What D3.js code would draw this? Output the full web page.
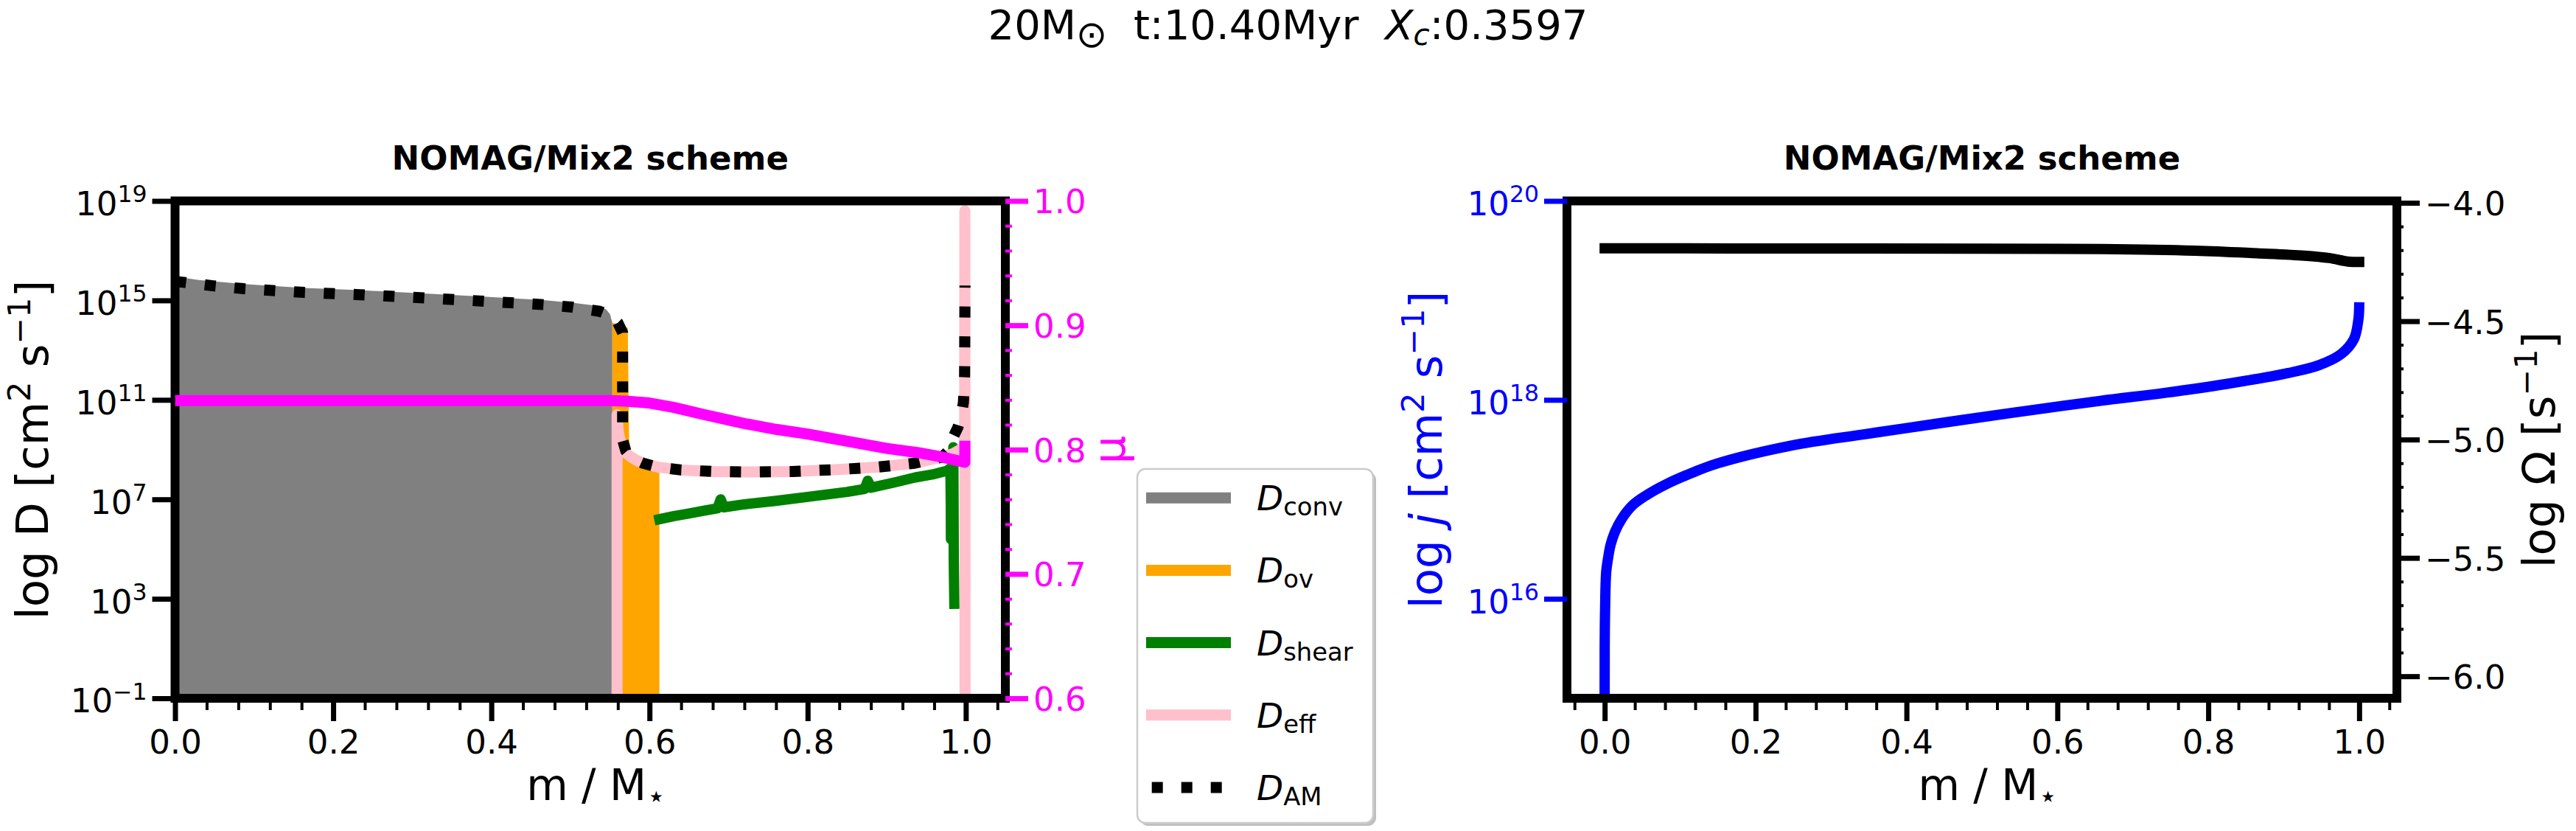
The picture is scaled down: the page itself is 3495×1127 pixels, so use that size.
<!DOCTYPE html>
<html>
<head>
<meta charset="utf-8">
<script src="https://cdn.jsdelivr.net/npm/d3@7"></script>
<style>
  body { margin: 0; background: #fff; }
  svg text { font-family: "DejaVu Sans", sans-serif; white-space: pre; }
</style>
</head>
<body>
<div id="chart"></div>
<script>
// ---------- DATA ----------------------------------
// left panel: diffusion coefficients, log10 D vs m/M*
var massConv = [0, 0.013, 0.03, 0.087, 0.163, 0.234, 0.315, 0.39, 0.466, 0.502, 0.53, 0.545, 0.55, 0.553]
var logDconv = [15.92, 15.9, 15.82, 15.66, 15.5, 15.41, 15.28, 15.15, 15.01, 14.91, 14.8, 14.64, 14.45, 14.1]

var massOv = [0.553, 0.5725, 0.5745, 0.58, 0.59, 0.6125]
var logDov = [14.1, 13.9, 8.6, 8.45, 8.3, 8.15]

var massShear = [0.6125, 0.63, 0.65, 0.67, 0.686, 0.69, 0.694, 0.72, 0.758, 0.8, 0.85, 0.872, 0.876, 0.88, 0.91, 0.936, 0.958, 0.976, 0.9805, 0.981, 0.9812, 0.9838, 0.9842, 0.9848, 0.9855]
var logDshear = [6.2, 6.32, 6.43, 6.55, 6.64, 7.0, 6.68, 6.8, 6.93, 7.1, 7.3, 7.42, 7.75, 7.47, 7.68, 7.88, 8.0, 8.15, 8.25, 6.8, 5.4, 5.35, 9.1, 4.45, 2.8]

var massEff = [0.559, 0.559, 0.5605, 0.564, 0.569, 0.576, 0.583, 0.592, 0.61, 0.64, 0.68, 0.72, 0.78, 0.84, 0.89, 0.935, 0.97, 0.985, 0.993, 0.9985, 0.9988, 0.9991]
var logDeff = [-4, 10.4, 9.7, 9.2, 8.9, 8.72, 8.58, 8.45, 8.3, 8.18, 8.12, 8.1, 8.12, 8.2, 8.3, 8.45, 8.7, 8.85, 9.0, 9.1, 18.6, -4]

var massAM = [0, 0.013, 0.05, 0.087, 0.163, 0.234, 0.315, 0.39, 0.466, 0.502, 0.537, 0.55, 0.56, 0.566, 0.566, 0.57, 0.576, 0.583, 0.592, 0.61, 0.64, 0.68, 0.72, 0.78, 0.84, 0.89, 0.935, 0.97, 0.98, 0.984, 0.99, 0.994, 0.997, 0.9985, 0.999]
var logDam = [15.76, 15.72, 15.58, 15.47, 15.32, 15.23, 15.1, 14.97, 14.83, 14.73, 14.56, 14.4, 14.1, 13.7, 9.4, 8.95, 8.72, 8.58, 8.45, 8.3, 8.18, 8.12, 8.1, 8.12, 8.2, 8.3, 8.45, 8.7, 9.0, 9.5, 9.9, 10.3, 10.9, 12, 15.6]

// mean molecular weight (twin axis)
var massMu = [0, 0.55, 0.57, 0.6, 0.63, 0.67, 0.72, 0.76, 0.8, 0.85, 0.9, 0.94, 0.97, 0.9988, 0.9988]
var muVals = [0.8395, 0.8395, 0.839, 0.8375, 0.834, 0.828, 0.821, 0.8163, 0.8125, 0.8068, 0.801, 0.7975, 0.794, 0.7898, 0.8027]

// right panel: specific angular momentum and angular velocity
var massJ = [0, 0, 0.0005, 0.002, 0.0045, 0.0077, 0.0134, 0.0223, 0.0369, 0.055, 0.081, 0.117, 0.149, 0.247, 0.345, 0.442, 0.54, 0.657, 0.742, 0.824, 0.906, 0.947, 0.976, 0.993, 0.999, 1.0]
var logJ = [14.0, 15.5, 15.88, 16.27, 16.41, 16.54, 16.67, 16.8, 16.94, 17.04, 17.15, 17.27, 17.36, 17.54, 17.655, 17.763, 17.87, 17.99, 18.07, 18.16, 18.27, 18.35, 18.46, 18.61, 18.81, 18.93]

var massOmega = [0, 0.3, 0.5, 0.66, 0.783, 0.865, 0.927, 0.96, 0.985, 1.0]
var logOmega = [-4.192, -4.193, -4.194, -4.195, -4.202, -4.213, -4.223, -4.233, -4.248, -4.25]

// ticks
var massTicks = [0, 0.2, 0.4, 0.6, 0.8, 1.0]
var logDTicks = [1e-1, 1e3, 1e7, 1e11, 1e15, 1e19]
var muTicks = [0.6, 0.7, 0.8, 0.9, 1.0]
var jTicks = [1e16, 1e18, 1e20]
var omegaTicks = [-6.0, -5.5, -5.0, -4.5, -4.0]

var legendKeys = ['conv', 'ov', 'shear', 'eff', 'AM']
var legendColors = ['#808080', '#ffa500', '#008000', '#ffc0cb', '#000000']


// ---------- PAGE FUNCTIONS -----------
var width = 3495, height = 1127;
var L = {x0: 237.5, x1: 1364, y0: 272.5, y1: 947}
var R = {x0: 2126, x1: 3252, y0: 272.5, y1: 947}

var svg = d3.select('#chart').append('svg')
    .attr('width', width)
    .attr('height', height);

svg.append('rect').attr('width', width).attr('height', height).attr('fill', 'white');

var xL = d3.scaleLinear().domain([0, 1.05]).range([L.x0, L.x1]);
var yL = d3.scaleLog().domain([1e-1, 1e19]).range([L.y1, L.y0]);
var muY = d3.scaleLinear().domain([0.6, 1.0]).range([L.y1, L.y0]);
var xR = d3.scaleLinear().domain([-0.05, 1.05]).range([R.x0, R.x1]);
var jY = d3.scaleLog().domain([1e15, 1e20]).range([R.y1, R.y0]);
var omY = d3.scaleLinear().domain([-6.093, -3.992]).range([R.y1, R.y0]);

var defs = svg.append('defs');
defs.append('clipPath').attr('id', 'clipL').append('rect')
    .attr('x', L.x0).attr('y', L.y0).attr('width', L.x1 - L.x0).attr('height', L.y1 - L.y0);
defs.append('clipPath').attr('id', 'clipR').append('rect')
    .attr('x', R.x0).attr('y', R.y0).attr('width', R.x1 - R.x0).attr('height', R.y1 - R.y0);

function pow10(v) { return Math.pow(10, v) }

// text with super/subscripts, parts = [[text, 'sup'|'sub'|null, italic, sizeFactor, shift]]
function richText(sel, parts, fs) {
    var prev = 0;
    parts.forEach(function(p) {
        var sh = 0, size = fs;
        if (p[1] == 'sup') { sh = -0.39 * fs; size = 0.7 * fs; }
        if (p[1] == 'sub') { sh = 0.15 * fs; size = 0.72 * fs; }
        if (p[3]) size = p[3] * fs;
        if (p[4] != null) sh = p[4] * fs;
        sel.append('tspan').text(p[0])
            .attr('dy', sh - prev)
            .style('font-size', size + 'px')
            .style('font-style', p[2] ? 'italic' : 'normal');
        prev = sh;
    });
}

function styleAxis(g, color, tw) {
    g.attr('font-size', 45).attr('font-family', 'DejaVu Sans');
    g.select('.domain').remove();
    g.selectAll('.tick line').attr('stroke', color).attr('stroke-width', tw);
    g.selectAll('.tick text').attr('fill', color);
}

function minorRange(a, b, step, major) {
    var out = [];
    for (var i = Math.round(a / step); i <= Math.round(b / step); i++) {
        if (i % major != 0) out.push(+(i * step).toFixed(4));
    }
    return out;
}

// ---------- LEFT PANEL -----------
var pL = svg.append('g').attr('clip-path', 'url(#clipL)');

pL.append('path')
    .datum(d3.zip(massConv, logDconv))
    .attr('d', d3.area().x(function(d){ return xL(d[0]) }).y0(L.y1 + 20).y1(function(d){ return yL(pow10(d[1])) }))
    .attr('fill', '#808080');

pL.append('path')
    .datum(d3.zip(massOv, logDov))
    .attr('d', d3.area().x(function(d){ return xL(d[0]) }).y0(L.y1 + 20).y1(function(d){ return yL(pow10(d[1])) }))
    .attr('fill', '#ffa500');

var lineL = d3.line().x(function(d){ return xL(d[0]) }).y(function(d){ return yL(pow10(d[1])) });

pL.append('path')
    .datum(d3.zip(massShear, logDshear))
    .attr('d', lineL)
    .attr('fill', 'none').attr('stroke', '#008000').attr('stroke-width', 14)
    .attr('stroke-linejoin', 'round').attr('stroke-linecap', 'square');

pL.append('path')
    .datum(d3.zip(massEff, logDeff))
    .attr('d', lineL)
    .attr('fill', 'none').attr('stroke', '#ffc0cb').attr('stroke-width', 15)
    .attr('stroke-linejoin', 'round').attr('stroke-linecap', 'square');

pL.append('path')
    .datum(d3.zip(massAM, logDam))
    .attr('d', lineL)
    .attr('fill', 'none').attr('stroke', 'black').attr('stroke-width', 15)
    .attr('stroke-dasharray', '15,25.5')
    .attr('stroke-linejoin', 'round').attr('stroke-linecap', 'butt');

svg.append('rect')
    .attr('x', L.x0).attr('y', L.y0).attr('width', L.x1 - L.x0).attr('height', L.y1 - L.y0)
    .attr('fill', 'none').attr('stroke', 'black').attr('stroke-width', 12);

svg.append('g').attr('clip-path', 'url(#clipL)')
  .append('path')
    .datum(d3.zip(massMu, muVals))
    .attr('d', d3.line().x(function(d){ return xL(d[0]) }).y(function(d){ return muY(d[1]) }))
    .attr('fill', 'none').attr('stroke', '#ff00ff').attr('stroke-width', 15)
    .attr('stroke-linejoin', 'round').attr('stroke-linecap', 'square');

// axes
var gxL = svg.append('g').attr('transform', 'translate(0,' + L.y1 + ')')
    .call(d3.axisBottom(xL).tickValues(massTicks).tickSize(31).tickFormat(d3.format('.1f')));
styleAxis(gxL, 'black', 7);
gxL.selectAll('.tick text').attr('y', 75).attr('dy', null);

var gxLm = svg.append('g').attr('transform', 'translate(0,' + L.y1 + ')')
    .call(d3.axisBottom(xL).tickValues(minorRange(0.04, 1.04, 0.04, 5)).tickSize(16).tickFormat(''));
styleAxis(gxLm, 'black', 4);

var gyL = svg.append('g').attr('transform', 'translate(' + L.x0 + ',0)')
    .call(d3.axisLeft(yL).tickValues(logDTicks).tickSize(31).tickPadding(7).tickFormat(function(){ return '10' }));
styleAxis(gyL, 'black', 7);
gyL.selectAll('.tick text').attr('dy', '0.42em').each(function(d) {
    d3.select(this).append('tspan').attr('dy', -17.7).style('font-size', '31.5px')
        .text(d3.format('d')(Math.round(Math.log10(d))));
});

var gmu = svg.append('g').attr('transform', 'translate(' + L.x1 + ',0)')
    .call(d3.axisRight(muY).tickValues(muTicks).tickSize(31).tickPadding(7).tickFormat(d3.format('.1f')));
styleAxis(gmu, '#ff00ff', 7);
gmu.selectAll('.tick text').attr('dy', '0.366em');

var gmum = svg.append('g').attr('transform', 'translate(' + L.x1 + ',0)')
    .call(d3.axisRight(muY).tickValues(minorRange(0.62, 0.98, 0.02, 5)).tickSize(9).tickFormat(''));
styleAxis(gmum, '#ff00ff', 4);

// ---------- RIGHT PANEL -----------
var pR = svg.append('g').attr('clip-path', 'url(#clipR)');

pR.append('path')
    .datum(d3.zip(massJ, logJ))
    .attr('d', d3.line().x(function(d){ return xR(d[0]) }).y(function(d){ return jY(pow10(d[1])) }).curve(d3.curveCatmullRom.alpha(0.5)))
    .attr('fill', 'none').attr('stroke', '#0000ff').attr('stroke-width', 14)
    .attr('stroke-linejoin', 'round').attr('stroke-linecap', 'square');

svg.append('rect')
    .attr('x', R.x0).attr('y', R.y0).attr('width', R.x1 - R.x0).attr('height', R.y1 - R.y0)
    .attr('fill', 'none').attr('stroke', 'black').attr('stroke-width', 12);

svg.append('g').attr('clip-path', 'url(#clipR)')
  .append('path')
    .datum(d3.zip(massOmega, logOmega))
    .attr('d', d3.line().x(function(d){ return xR(d[0]) }).y(function(d){ return omY(d[1]) }).curve(d3.curveCatmullRom.alpha(0.5)))
    .attr('fill', 'none').attr('stroke', 'black').attr('stroke-width', 14)
    .attr('stroke-linejoin', 'round').attr('stroke-linecap', 'square');

var gxR = svg.append('g').attr('transform', 'translate(0,' + R.y1 + ')')
    .call(d3.axisBottom(xR).tickValues(massTicks).tickSize(31).tickFormat(d3.format('.1f')));
styleAxis(gxR, 'black', 7);
gxR.selectAll('.tick text').attr('y', 75).attr('dy', null);

var gxRm = svg.append('g').attr('transform', 'translate(0,' + R.y1 + ')')
    .call(d3.axisBottom(xR).tickValues(minorRange(-0.04, 1.04, 0.04, 5)).tickSize(16).tickFormat(''));
styleAxis(gxRm, 'black', 4);

var gjy = svg.append('g').attr('transform', 'translate(' + R.x0 + ',0)')
    .call(d3.axisLeft(jY).tickValues(jTicks).tickSize(31).tickPadding(7).tickFormat(function(){ return '10' }));
styleAxis(gjy, '#0000ff', 7);
gjy.selectAll('.tick text').attr('dy', '0.42em').each(function(d) {
    d3.select(this).append('tspan').attr('dy', -17.7).style('font-size', '31.5px')
        .text(d3.format('d')(Math.round(Math.log10(d))));
});

var gom = svg.append('g').attr('transform', 'translate(' + R.x1 + ',0)')
    .call(d3.axisRight(omY).tickValues(omegaTicks).tickSize(31).tickPadding(7).tickFormat(d3.format('.1f')));
styleAxis(gom, 'black', 7);
gom.selectAll('.tick text').attr('dy', '0.366em');

var gomm = svg.append('g').attr('transform', 'translate(' + R.x1 + ',0)')
    .call(d3.axisRight(omY).tickValues(minorRange(-5.9, -4.1, 0.1, 5)).tickSize(9).tickFormat(''));
styleAxis(gomm, 'black', 4);

// ---------- TEXT -----------
var sup = svg.append('text').attr('x', width / 2).attr('y', 53).attr('text-anchor', 'middle');
richText(sup, [['20M'], ['\u2299', 'sub', false, 0.9, 0.2], ['  t:10.40Myr  '], ['X', null, true], ['c', 'sub', true], [':0.3597']], 56);

[[L, 'left'], [R, 'right']].forEach(function(p) {
    var b = p[0];
    svg.append('text')
        .attr('x', (b.x0 + b.x1) / 2).attr('y', 230)
        .attr('text-anchor', 'middle')
        .style('font-size', '45px').style('font-weight', 'bold')
        .text('NOMAG/Mix2 scheme');
    var xl = svg.append('text')
        .attr('x', (b.x0 + b.x1) / 2 + 8).attr('y', 1085)
        .attr('text-anchor', 'middle');
    richText(xl, [['m / M'], ['\u22c6', 'sub']], 58);
});

function yLabel(x, y, color, parts) {
    var t = svg.append('text')
        .attr('transform', 'translate(' + x + ',' + y + ') rotate(-90)')
        .attr('text-anchor', 'middle')
        .attr('fill', color);
    richText(t, parts, 61);
}
yLabel(65, 610, 'black', [['log D [cm'], ['2', 'sup'], [' s'], ['\u22121', 'sup'], [']']]);
yLabel(1526, 610, '#ff00ff', [['\u03bc']]);
yLabel(1956, 610, '#0000ff', [['log '], ['j', null, true], [' [cm'], ['2', 'sup'], [' s'], ['\u22121', 'sup'], [']']]);
yLabel(3466, 610, 'black', [['log \u03a9 [s'], ['\u22121', 'sup'], [']']]);

// ---------- LEGEND -----------
var lg = svg.append('g');
lg.append('rect')
    .attr('x', 1547).attr('y', 640).attr('width', 320).attr('height', 480)
    .attr('rx', 11).attr('fill', '#000').attr('opacity', 0.25);
lg.append('rect')
    .attr('x', 1543).attr('y', 636).attr('width', 320).attr('height', 480)
    .attr('rx', 11).attr('fill', 'white').attr('stroke', '#cccccc').attr('stroke-width', 2.5);

legendKeys.forEach(function(k, i) {
    var yy = 675.2 + i * 98.2;
    var ln = lg.append('line')
        .attr('x1', 1555).attr('x2', 1670).attr('y1', yy).attr('y2', yy)
        .attr('stroke', legendColors[i]).attr('stroke-width', 15);
    if (k == 'AM') ln.attr('stroke-dasharray', '15,25').attr('stroke-dashoffset', -7.7);
    var t = lg.append('text').attr('x', 1705).attr('y', yy + 17);
    richText(t, [['D', null, true], [k, 'sub']], 47);
});
</script>
</body>
</html>
